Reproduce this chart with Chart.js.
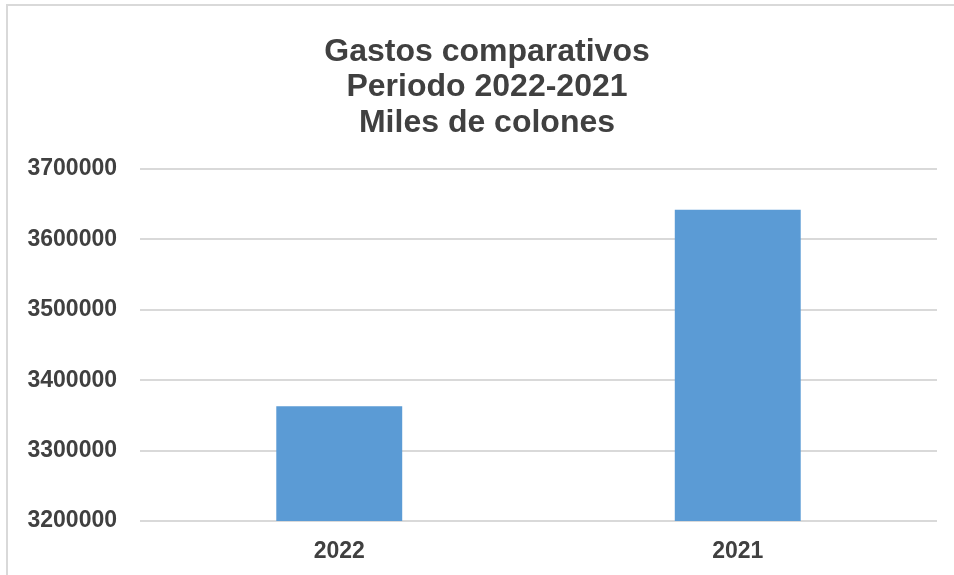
<!DOCTYPE html>
<html>
<head>
<meta charset="utf-8">
<script src="https://cdn.jsdelivr.net/npm/chart.js@4"></script>
<style>
  body { margin: 0; background: #fff; }
  .wrap { position: relative; width: 954px; height: 575px; overflow: hidden; }
  .frame { position: absolute; left: 6px; top: 4px; width: 946px; height: 600px; border: 2px solid #d9d9d9; pointer-events: none; }
  canvas { position: absolute; left: 0; top: 0; }
</style>
</head>
<body>
<div class="wrap">
  <canvas id="chart" width="954" height="575"></canvas>
  <div class="frame"></div>
</div>
<script>
// datos del gráfico
const years = ['2022', '2021'];
const gastos = [3363000, 3642000];
const titleLines = ['Gastos comparativos', 'Periodo 2022-2021', 'Miles de colones'];

const font = 'Arial, "Liberation Sans", sans-serif';
const ctx = document.getElementById('chart').getContext('2d');

// the title in the original is centred on the whole frame, not the plot area,
// so it is drawn by hand in the space left by the top padding
const frameTitle = {
    id: 'frameTitle',
    afterDraw(chart) {
        const c = chart.ctx;
        c.save();
        c.font = 'bold 32px ' + font;
        c.fillStyle = '#404040';
        c.textAlign = 'center';
        c.textBaseline = 'alphabetic';
        titleLines.forEach((line, i) => c.fillText(line, 487, 61 + i * 35.3));
        c.restore();
    }
};

new Chart(ctx, {
    type: 'bar',
    data: {
        labels: years,
        datasets: [{
            label: 'Gastos',
            data: gastos,
            backgroundColor: '#5b9bd5',
            barPercentage: 0.316,
            categoryPercentage: 1
        }]
    },
    options: {
        responsive: false,
        animation: false,
        layout: { padding: { left: 0, right: 17, top: 169, bottom: 0 } },
        plugins: {
            legend: { display: false },
            tooltip: { enabled: false },
            title: { display: false }
        },
        scales: {
            y: {
                min: 3200000,
                max: 3700000,
                afterFit: scale => { scale.width = 140; },
                ticks: {
                    stepSize: 100000,
                    padding: 23,
                    color: '#404040',
                    font: { family: font, size: 23, weight: 'bold' },
                    callback: value => String(value)
                },
                grid: { color: '#d9d9d9', lineWidth: 2, drawTicks: false },
                border: { display: false }
            },
            x: {
                afterFit: scale => { scale.height = 54; },
                ticks: {
                    padding: 17,
                    color: '#404040',
                    font: { family: font, size: 23, weight: 'bold' }
                },
                grid: { display: false, drawTicks: false },
                border: { display: false }
            }
        }
    },
    plugins: [frameTitle]
});
</script>
</body>
</html>
